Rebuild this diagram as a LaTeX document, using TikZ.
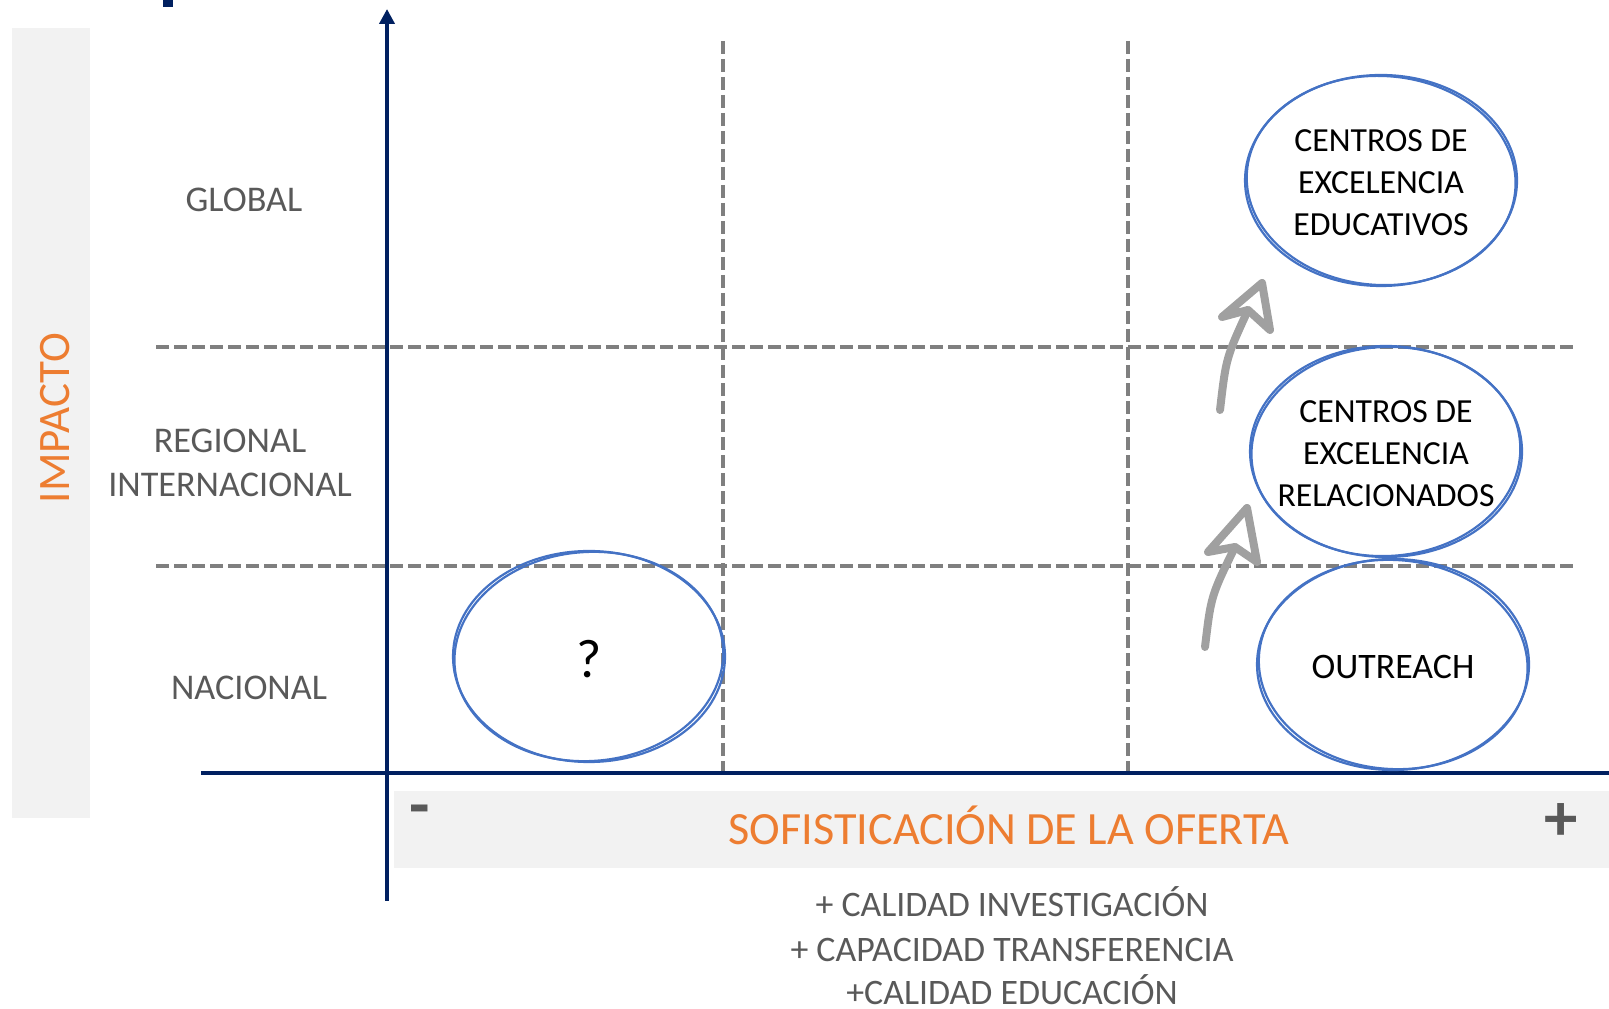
\documentclass[tikz,border=0pt]{standalone}
\usepackage{fontspec}
\setmainfont{Carlito}
\usepackage{xcolor}
\usepackage{tikz}
\usetikzlibrary{shapes,arrows,positioning,calc,arrows.meta}

\definecolor{axisblue}{HTML}{002060}
\definecolor{ovalblue}{HTML}{4472C4}
\definecolor{titleorange}{HTML}{ED7D31}
\definecolor{labelgray}{HTML}{595959}
\definecolor{gridgray}{HTML}{7F7F7F}
\definecolor{panelgray}{HTML}{F2F2F2}
\definecolor{sketchgray}{HTML}{A0A0A0}

\begin{document}
\begin{tikzpicture}[
    axis/.style={draw=axisblue, line width=0.04cm},
    grid/.style={draw=gridgray, line width=0.035cm, dash pattern=on 0.13cm off 0.05cm},
    lbl/.style={text=labelgray, font=\fontsize{10.3}{12.5}\selectfont, align=center},
    title/.style={text=titleorange, font=\fontsize{13.15}{15}\selectfont},
    oval/.style={draw=ovalblue, line width=0.022cm},
    ovaltext/.style={font=\fontsize{9.6}{11.95}\selectfont, align=center, inner sep=0pt},
    sketch/.style={draw=sketchgray, line width=0.08cm, line cap=round, line join=round},
]
    \useasboundingbox (0,0) rectangle (16.09,10.08);

    % Background panels
    \fill[panelgray] (0.12,1.90) rectangle (0.90,9.80);
    \fill[panelgray] (3.94,1.40) rectangle (16.09,2.17);
    \fill[axisblue] (1.63,10.01) rectangle (1.73,10.08);

    % Grid lines
    \draw[grid] (1.56,6.61) -- (15.75,6.61);
    \draw[grid] (1.56,4.42) -- (15.75,4.42);
    \draw[grid] (7.23,9.67) -- (7.23,2.35);
    \draw[grid] (11.28,9.67) -- (11.28,2.35);

    % Axes
    \draw[axis, -{Triangle[width=0.15cm,length=0.15cm]}] (3.87,1.07) -- (3.87,9.99);
    \draw[axis] (2.01,2.35) -- (16.09,2.35);

    % Impact levels
    \node[lbl, anchor=base] (glob) at (2.44,7.96) {GLOBAL};
    \node[lbl] (reg) at (2.30,5.45) {REGIONAL\\INTERNACIONAL};
    \node[lbl, anchor=base] (nac) at (2.49,3.08) {NACIONAL};
    \node[title, rotate=90, anchor=base, font=\fontsize{12.8}{15}\selectfont] (imp) at (0.69,5.90) {IMPACTO};

    % Offer axis
    \node[title, anchor=base] (sof) at (10.09,1.63) {SOFISTICACIÓN DE LA OFERTA};
    \node[text=labelgray, anchor=base, font=\fontsize{19}{20}\selectfont\bfseries] (minus) at (4.195,1.80) {-};
    \node[text=labelgray, anchor=base, font=\fontsize{19}{20}\selectfont\bfseries] (plus) at (15.61,1.68) {+};
    \node[lbl, anchor=base, font=\fontsize{10.2}{12}\selectfont] (crit1) at (10.12,0.92) {+ CALIDAD INVESTIGACIÓN};
    \node[lbl, anchor=base, font=\fontsize{10.2}{12}\selectfont] (crit2) at (10.12,0.47) {+ CAPACIDAD TRANSFERENCIA};
    \node[lbl, anchor=base, font=\fontsize{10.2}{12}\selectfont] (crit3) at (10.12,0.04) {+CALIDAD EDUCACIÓN};

    % Centres
    \node[ovaltext, font=\fontsize{15.5}{17}\selectfont] (q) at (5.89,3.49) {?};
    \node[ovaltext] (ceed) at (13.81,8.25) {CENTROS DE\\EXCELENCIA\\EDUCATIVOS};
    \node[ovaltext] (cerel) at (13.86,5.54) {CENTROS DE\\EXCELENCIA\\RELACIONADOS};
    \node[ovaltext, font=\fontsize{10.2}{12}\selectfont] (outr) at (13.93,3.41) {OUTREACH};

    % Sketchy double outlines
    \foreach \n/\a in {q/4,ceed/-3,cerel/3,outr/-4}{
        \draw[oval] ($(\n.center)+(0,0.025)$) ellipse [x radius=1.36, y radius=1.055];
        \draw[oval, rotate around={\a:(\n.center)}] ($(\n.center)+(0,0.025)$) ellipse [x radius=1.345, y radius=1.045];
    }

    % Hand drawn arrows
    \coordinate (a1tail) at (12.20,5.98);
    \coordinate (a1end) at (12.48,6.98);
    \coordinate (a1tip) at (12.62,7.25);
    \coordinate (a1l) at (12.22,6.91);
    \coordinate (a1r) at (12.70,6.78);
    \draw[sketch] (a1tail) .. controls (12.26,6.50) .. (a1end);
    \draw[sketch] (a1end) -- (a1l) -- (a1tip) -- (a1r) -- cycle;

    \coordinate (a2tail) at (12.05,3.61);
    \coordinate (a2end) at (12.35,4.61);
    \coordinate (a2tip) at (12.47,5.00);
    \coordinate (a2l) at (12.08,4.56);
    \coordinate (a2r) at (12.57,4.46);
    \draw[sketch] (a2tail) .. controls (12.11,4.12) .. (a2end);
    \draw[sketch] (a2end) -- (a2l) -- (a2tip) -- (a2r) -- cycle;
\end{tikzpicture}
\end{document}
